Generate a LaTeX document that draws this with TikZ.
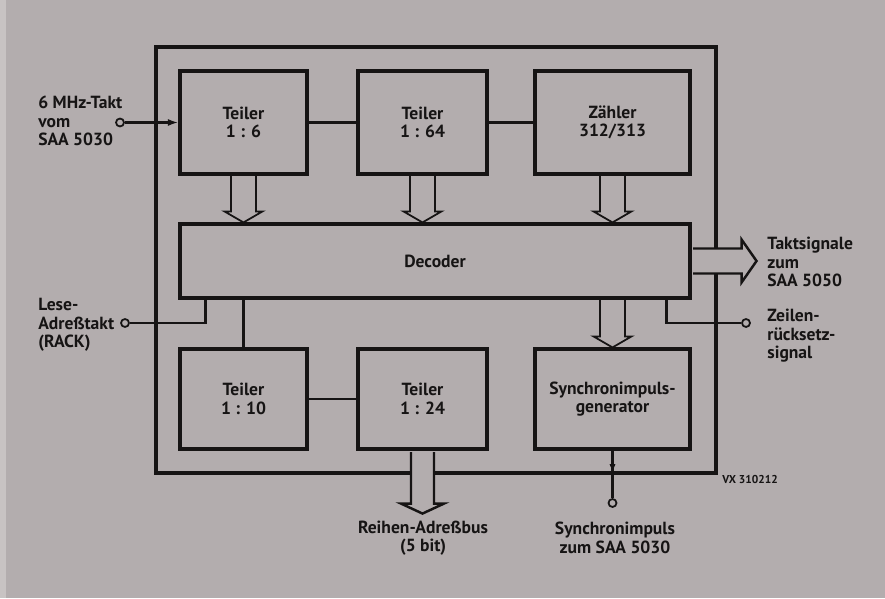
\documentclass[tikz,border=0pt]{standalone}
\usepackage{fontspec}
\setmainfont{PT Sans}
\usetikzlibrary{arrows.meta, positioning, calc}
\definecolor{paper}{HTML}{B3ADAE}
\definecolor{paperedge}{HTML}{C8C3C3}
\definecolor{ink}{HTML}{161414}

\begin{document}
\begin{tikzpicture}[x=0.02cm, y=-0.02cm,
    font=\fontsize{10}{10.5}\selectfont\bfseries,
    blk/.style={draw=ink, line width=1.8pt, inner sep=0pt, align=center, text=ink},
    conn/.style={draw=ink, line width=1.3pt},
    port/.style={circle, draw=ink, line width=1pt, inner sep=0pt, minimum size=0.16cm},
    dblarr/.style={draw=ink, line width=1pt, line join=miter},
    bigarr/.style={draw=ink, line width=1.4pt, fill=paper, line join=miter},
    lbl/.style={anchor=west, align=left, text=ink, inner sep=0pt}]
  \useasboundingbox (0,0) rectangle (885,598);
  \fill[paper] (0,0) rectangle (885,598);
  \fill[paperedge] (0,0) rectangle (6,598);

  % outer frame
  \coordinate (fnw) at (156,47);
  \coordinate (fse) at (716,473);
  \draw[ink, line width=1.8pt] (fnw) rectangle (fse);

  % blocks
  \node[blk, minimum width=2.54cm, minimum height=2.06cm] (t6) at (243.5,122.5) {Teiler\\1 : 6};
  \node[blk, minimum width=2.58cm, minimum height=2.06cm] (t64) at (422.5,122.5) {Teiler\\1 : 64};
  \node[blk, minimum width=3.1cm, minimum height=2.06cm] (zaehler) at (612.5,122.5) {Zähler\\312/313};
  \node[blk, minimum width=10.2cm, minimum height=1.48cm] (dec) at (435,261) {Decoder};
  \node[blk, minimum width=2.54cm, minimum height=2cm] (t10) at (243.5,399) {Teiler\\1 : 10};
  \node[blk, minimum width=2.58cm, minimum height=2cm] (t24) at (422.5,399) {Teiler\\1 : 24};
  \node[blk, minimum width=3.1cm, minimum height=2cm] (sync) at (612.5,399) {Synchronimpuls-\\generator};

  % ports and labels
  \node[port] (clkin) at (120,122.5) {};
  \node[port] (rack) at (125,323) {};
  \node[port] (zrs) at (746,323) {};
  \node[port] (syncout) at (612.5,503) {};
  \node[lbl] (clklbl) at (38,121) {6 MHz-Takt\\vom\\SAA 5030};
  \node[lbl] (racklbl) at (38,325) {Lese-\\Adreßtakt\\(RACK)};
  \node[lbl] (taktlbl) at (767,262) {Taktsignale\\zum\\SAA 5050};
  \node[lbl] (zrslbl) at (767,336) {Zeilen-\\rücksetz-\\signal};
  \node[align=center, text=ink, inner sep=0pt] (buslbl) at (423,538) {Reihen-Adreßbus\\(5 bit)};
  \node[align=center, text=ink, inner sep=0pt] (synclbl) at (615,538) {Synchronimpuls\\zum SAA 5030};
  \node[lbl, font=\fontsize{6.5}{7}\selectfont\bfseries] (vx) at (722,479) {VX 310212};

  % connectors
  \draw[conn, -{Latex[length=6pt,width=4pt]}] (clkin) -- (clkin -| t6.west);
  \draw[conn] (t6) -- (t64);
  \draw[conn] (t64) -- (zaehler);
  \draw[conn] (t10) -- (t24);
  \draw[conn] (rack) -| ($(dec.south west)+(27,0)$);
  \draw[conn] (t10.north) -- (t10.north |- dec.south);
  \draw[conn] ($(dec.south east)+(-25,0)$) |- (zrs);
  \draw[conn] (sync) -- (syncout);
  \draw[conn, -{Latex[length=5pt,width=3.5pt]}] (sync.south) -- (sync.south |- fse);

  % hollow arrows into and out of the decoder
  \coordinate (d6) at (t6.south |- dec.north);
  \coordinate (d64) at (t64.south |- dec.north);
  \coordinate (dz) at (zaehler.south |- dec.north);
  \coordinate (ds) at (sync.north |- dec.south);
  \foreach \a/\b in {t6.south/d6, t64.south/d64, zaehler.south/dz, ds/sync.north}
    \draw[dblarr] ($(\a)+(-12.5,0)$) -- ($(\b)+(-12.5,-11)$) -- ($(\b)+(-19,-11)$) -- (\b)
      -- ($(\b)+(19,-11)$) -- ($(\b)+(12.5,-11)$) -- ($(\a)+(12.5,0)$);

  % wide output arrows
  \draw[bigarr] ($(dec.east)+(1.5,-12.5)$) -- ($(dec.east)+(50,-12.5)$) -- ($(dec.east)+(50,-21.5)$)
    -- ($(dec.east)+(65,0)$) -- ($(dec.east)+(50,21.5)$) -- ($(dec.east)+(50,12.5)$) -- ($(dec.east)+(1.5,12.5)$);
  \draw[bigarr] ($(t24.south)+(-11.5,1.5)$) -- ($(t24.south)+(-11.5,53)$) -- ($(t24.south)+(-21.5,53)$)
    -- ($(t24.south)+(0,63)$) -- ($(t24.south)+(21.5,53)$) -- ($(t24.south)+(11.5,53)$) -- ($(t24.south)+(11.5,1.5)$);
\end{tikzpicture}
\end{document}
